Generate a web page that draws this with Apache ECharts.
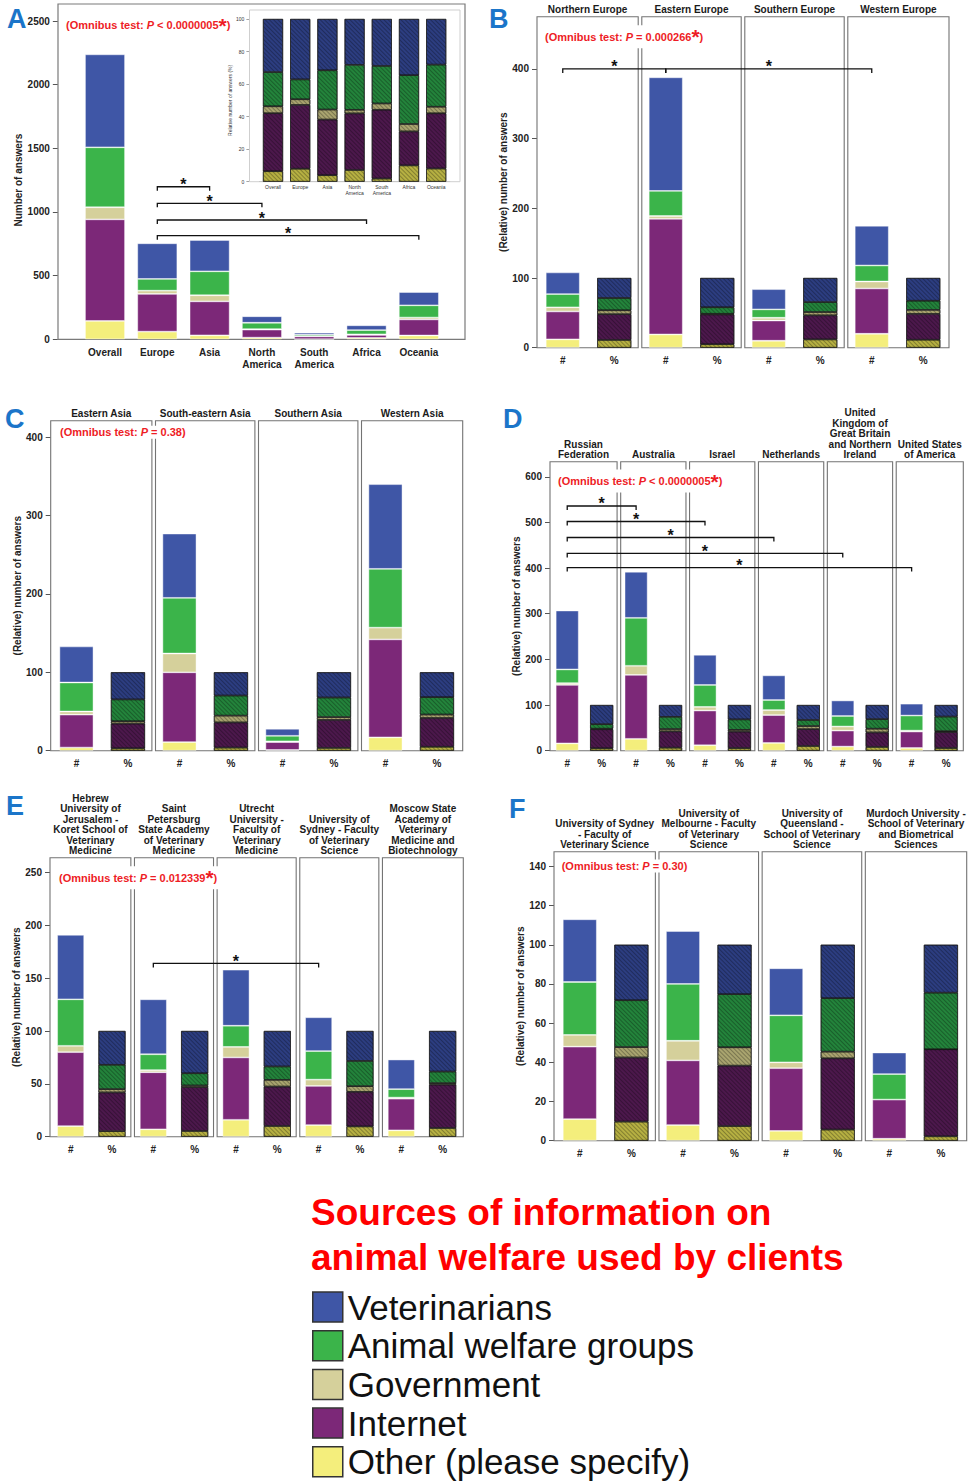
<!DOCTYPE html>
<html>
<head>
<meta charset="utf-8">
<title>Sources of information on animal welfare used by clients</title>
<script src="https://cdn.jsdelivr.net/npm/echarts@6/dist/echarts.min.js"></script>
<style>
html,body{margin:0;padding:0;background:#fff;}
#chart{width:969px;height:1484px;}
</style>
</head>
<body>
<div id="chart"></div>
<script>
// ---------- data: number of answers per information source ----------
// A: world regions
const regionsA = ['Overall', 'Europe', 'Asia', 'North\nAmerica', 'South\nAmerica', 'Africa', 'Oceania'];
const vetA   = [730, 280, 246, 51, 15, 38, 104];
const awgA   = [471,  92, 188, 50, 12, 33,  96];
const govA   = [ 95,  26,  48,  4,  2,  5,  15];
const netA   = [798, 296, 267, 63, 22, 23, 126];
const otherA = [144,  60,  31, 13,  1, 11,  30];
const bracketsA = [[1, 2, 1198], [1, 3, 1068], [1, 5, 937], [1, 6, 814]];
const ticksA = [0, 500, 1000, 1500, 2000, 2500];
const ticksInset = [0, 20, 40, 60, 80, 100];

// B: European subregions
const facetsB = ['Northern Europe', 'Eastern Europe', 'Southern Europe', 'Western Europe'];
const vetB   = [31, 163, 29, 57];
const awgB   = [19,  36, 12, 23];
const govB   = [ 6,   4,  4, 10];
const netB   = [40, 166, 29, 65];
const otherB = [12,  19, 10, 20];
const bracketsB = [[0, 1, 400], [1, 3, 400]];
const ticksB = [0, 100, 200, 300, 400];

// C: Asian subregions
const facetsC = ['Eastern Asia', 'South-eastern Asia', 'Southern Asia', 'Western Asia'];
const vetC   = [46, 82, 9, 108];
const awgC   = [37, 71, 7,  75];
const govC   = [ 4, 24, 1,  15];
const netC   = [42, 89, 10, 125];
const otherC = [ 4, 11, 1,  17];
const bracketsC = [];
const ticksC = [0, 100, 200, 300, 400];

// D: countries
const facetsD = ['Russian\nFederation', 'Australia', 'Israel', 'Netherlands',
  'United\nKingdom of\nGreat Britain\nand Northern\nIreland', 'United States\nof America'];
const vetD   = [129, 101, 66, 54, 34, 26];
const awgD   = [ 30, 105, 48, 22, 23, 33];
const govD   = [  4,  20,  8, 11,  9,  2];
const netD   = [128, 140, 76, 61, 35, 36];
const otherD = [ 16,  26, 12, 17,  9,  6];
const bracketsD = [[0, 1, 536], [0, 2, 502], [0, 3, 467], [0, 4, 432], [0, 5, 401]];
const ticksD = [0, 100, 200, 300, 400, 500, 600];

// E: veterinary schools
const facetsE = ['Hebrew\nUniversity of\nJerusalem -\nKoret School of\nVeterinary\nMedicine',
  'Saint\nPetersburg\nState Academy\nof Veterinary\nMedicine',
  'Utrecht\nUniversity -\nFaculty of\nVeterinary\nMedicine',
  'University of\nSydney - Faculty\nof Veterinary\nScience',
  'Moscow State\nAcademy of\nVeterinary\nMedicine and\nBiotechnology'];
const vetE   = [61, 52, 53, 32, 28];
const awgE   = [44, 15, 20, 27,  8];
const govE   = [ 6,  2, 10,  6,  1];
const netE   = [70, 54, 59, 37, 30];
const otherE = [10,  7, 16, 11,  6];
const bracketsE = [[1, 3, 164]];
const ticksE = [0, 50, 100, 150, 200, 250];

// F: Australian veterinary schools
const facetsF = ['University of Sydney\n- Faculty of\nVeterinary Science',
  'University of\nMelbourne - Faculty\nof Veterinary\nScience',
  'University of\nQueensland -\nSchool of Veterinary\nScience',
  'Murdoch University -\nSchool of Veterinary\nand Biometrical\nSciences'];
const vetF   = [32, 27, 24, 11];
const awgF   = [27, 29, 24, 13];
const govF   = [ 6, 10,  3,  0];
const netF   = [37, 33, 32, 20];
const otherF = [11,  8,  5,  1];
const bracketsF = [];
const ticksF = [0, 20, 40, 60, 80, 100, 120, 140];

// ---------- styling ----------
const FONT = "'Liberation Sans', Arial, Helvetica, sans-serif";
const NAMES = {vet: 'Veterinarians', awg: 'Animal welfare groups', gov: 'Government',
  net: 'Internet', other: 'Other (please specify)'};
const STACK = ['other', 'net', 'gov', 'awg', 'vet'];          // bottom to top
const COLORS = {vet: '#3f56a6', awg: '#3bb44a', gov: '#d5d09b', net: '#7c2878', other: '#f4ee7c'};
const DARK   = {vet: '#2c3d80', awg: '#23833b', gov: '#a9a46f', net: '#4c184c', other: '#b6b042'};
const RED = '#ee1c25';
const LETTER = '#1b75c9';

function plainStyle(k) {
  return {color: COLORS[k], borderColor: 'rgba(255,255,255,0.55)', borderWidth: 0.8};
}
function hatchStyle(k) {
  return {
    color: DARK[k], borderColor: '#1a1a1a', borderWidth: 0.6,
    decal: {symbol: 'rect', symbolSize: 1, dashArrayX: [1, 0], dashArrayY: [1, 2],
            rotation: Math.PI / 4, color: 'rgba(0,0,0,0.28)'}
  };
}
const plainNumber = v => String(v);
const boldLabel = {fontFamily: FONT, fontWeight: 'bold', fontSize: 10, color: '#222'};

const option = {
  animation: false,
  backgroundColor: '#fff',
  grid: [], xAxis: [], yAxis: [], series: [], title: [], graphic: [],
  legend: {
    left: 312, top: 1289.5, height: 194, orient: 'vertical', padding: 0,
    itemWidth: 30, itemHeight: 30, itemGap: 3.7, icon: 'rect', selectedMode: false,
    data: ['Veterinarians', 'Animal welfare groups', 'Government', 'Internet', 'Other (please specify)'],
    itemStyle: {borderColor: '#333', borderWidth: 1.5},
    textStyle: {fontFamily: FONT, fontSize: 35, color: '#111'}
  }
};

function sumAt(counts, i) {
  return STACK.reduce((s, k) => s + counts[k][i], 0);
}

function bracketRenderer(list, xOf) {
  return function (params, api) {
    const b = list[params.dataIndex];
    const p1 = api.coord([xOf(b[0]), b[2]]);
    const p2 = api.coord([xOf(b[1]), b[2]]);
    const d = 4;
    return {type: 'group', children: [
      {type: 'polyline', shape: {points: [[p1[0], p1[1] + d], [p1[0], p1[1]], [p2[0], p2[1]], [p2[0], p2[1] + d]]},
       style: {fill: 'none', stroke: '#111', lineWidth: 1.3}},
      {type: 'text', style: {text: '*', x: (p1[0] + p2[0]) / 2, y: p1[1] - 2, align: 'center',
       verticalAlign: 'middle', fontSize: 16, fontWeight: 'bold', fontFamily: FONT, fill: '#111'}}
    ]};
  };
}

function addBrackets(gi, list, xOf) {
  if (!list.length) return;
  option.series.push({
    type: 'custom', xAxisIndex: gi, yAxisIndex: gi, z: 4, silent: true,
    data: list.map(b => [xOf(b[0]), b[2]]),
    renderItem: bracketRenderer(list, xOf)
  });
}

// ---------- panel A: counts per region, plus percentage inset ----------
(function () {
  const counts = {vet: vetA, awg: awgA, gov: govA, net: netA, other: otherA};
  // main plot
  let gi = option.grid.length;
  option.grid.push({left: 78.85, top: 21, width: 366.15, height: 318.3});
  option.xAxis.push({gridIndex: gi, type: 'category', data: regionsA,
    axisLine: {show: false}, axisTick: {alignWithLabel: true, length: 5, lineStyle: {color: '#555'}},
    axisLabel: Object.assign({margin: 7, lineHeight: 12}, boldLabel)});
  option.yAxis.push({gridIndex: gi, type: 'value', min: 0, max: 2500, offset: 21,
    axisLine: {show: false},
    axisTick: {show: true, length: 5, customValues: ticksA, lineStyle: {color: '#555'}},
    axisLabel: Object.assign({customValues: ticksA, formatter: plainNumber}, boldLabel),
    splitLine: {show: false},
    name: 'Number of answers', nameLocation: 'middle', nameGap: 31,
    nameTextStyle: {fontFamily: FONT, fontWeight: 'bold', fontSize: 10, color: '#222'}});
  STACK.forEach(k => {
    option.series.push({type: 'bar', name: NAMES[k], xAxisIndex: gi, yAxisIndex: gi, stack: 'A',
      barWidth: 40, z: 2, itemStyle: plainStyle(k),
      data: regionsA.map((_, i) => counts[k][i])});
  });
  addBrackets(gi, bracketsA, i => i);

  // inset: relative number of answers (%)
  gi = option.grid.length;
  option.grid.push({left: 259.4, top: 19, width: 190.4, height: 162.7});
  option.xAxis.push({gridIndex: gi, type: 'category', data: regionsA,
    axisLine: {show: true, lineStyle: {color: '#666', width: 0.6}},
    axisTick: {alignWithLabel: true, length: 2, lineStyle: {color: '#666', width: 0.6}},
    axisLabel: {fontFamily: FONT, fontSize: 5, color: '#333', margin: 3, lineHeight: 5.5}});
  option.yAxis.push({gridIndex: gi, type: 'value', min: 0, max: 100, offset: 10,
    axisLine: {show: false},
    axisTick: {show: true, length: 3, customValues: ticksInset, lineStyle: {color: '#666', width: 0.6}},
    axisLabel: {customValues: ticksInset, fontFamily: FONT, fontSize: 5, color: '#333', margin: 5},
    splitLine: {show: false},
    name: 'Relative number of answers (%)', nameLocation: 'middle', nameGap: 12,
    nameTextStyle: {fontFamily: FONT, fontSize: 5, color: '#333'}});
  STACK.forEach(k => {
    option.series.push({type: 'bar', name: NAMES[k], xAxisIndex: gi, yAxisIndex: gi, stack: 'inset',
      barWidth: 20, z: 2, itemStyle: {color: DARK[k]},
      data: regionsA.map((_, i) => ({value: counts[k][i] / sumAt(counts, i) * 100, itemStyle: hatchStyle(k)}))});
  });

  option.graphic.push(
    {type: 'rect', silent: true, z: 1, shape: {x: 58, y: 4, width: 407, height: 335.3},
     style: {fill: 'none', stroke: '#7a7a7a', lineWidth: 1.2}},
    {type: 'rect', silent: true, z: 1, shape: {x: 249.5, y: 10, width: 210.5, height: 171.7},
     style: {fill: 'none', stroke: '#cfcfcf', lineWidth: 1}}
  );
})();

// ---------- faceted panels B–F: count (#) and percentage (%) bars per facet ----------
function facetPanel(p) {
  const gi = option.grid.length;
  const counts = p.counts;
  const cats = [];
  p.facets.forEach(() => cats.push('#', '%'));
  option.grid.push({left: p.box.left, top: p.box.top, width: p.box.width, height: p.box.height});
  option.xAxis.push({gridIndex: gi, type: 'category', data: cats, axisLine: {show: false},
    axisTick: {alignWithLabel: true, length: 5, lineStyle: {color: '#555'}},
    axisLabel: Object.assign({margin: 8}, boldLabel)});
  option.yAxis.push({gridIndex: gi, type: 'value', min: 0, max: p.yMax,
    axisLine: {show: false},
    axisTick: {show: true, length: 5, customValues: p.yTicks, lineStyle: {color: '#555'}},
    axisLabel: Object.assign({customValues: p.yTicks, formatter: plainNumber}, boldLabel),
    splitLine: {show: false},
    name: '(Relative) number of answers', nameLocation: 'middle', nameGap: p.nameGap,
    nameTextStyle: {fontFamily: FONT, fontWeight: 'bold', fontSize: 10, color: '#222'}});
  STACK.forEach(k => {
    const data = [];
    p.facets.forEach((_, f) => {
      data.push({value: counts[k][f], itemStyle: plainStyle(k)});
      data.push({value: counts[k][f] / sumAt(counts, f) * 100, itemStyle: hatchStyle(k)});
    });
    option.series.push({type: 'bar', name: NAMES[k], xAxisIndex: gi, yAxisIndex: gi, stack: 'p' + gi,
      barWidth: p.barWidth, z: 2, itemStyle: {color: COLORS[k]}, data});
  });
  // facet frames with their titles
  const n = p.facets.length;
  option.series.push({
    type: 'custom', xAxisIndex: gi, yAxisIndex: gi, z: 1, silent: true,
    data: p.facets.map((_, f) => [2 * f, 0]),
    renderItem: function (params, api) {
      const f = params.dataIndex, g = 1.8;
      const band = api.size([1, 0])[0];
      const a = api.coord([2 * f, 0]);
      const b = api.coord([2 * f + 1, p.yMax]);
      const x0 = a[0] - band / 2 + (f > 0 ? g : 0);
      const x1 = b[0] + band / 2 - (f < n - 1 ? g : 0);
      return {type: 'group', children: [
        {type: 'rect', shape: {x: x0, y: b[1], width: x1 - x0, height: a[1] - b[1]},
         style: {fill: 'none', stroke: '#737373', lineWidth: 1.1}},
        {type: 'text', style: {text: p.facets[f], x: (x0 + x1) / 2, y: b[1] - 2, align: 'center',
         verticalAlign: 'bottom', fontSize: 10, fontWeight: 'bold', fontFamily: FONT,
         fill: '#1a1a1a', lineHeight: 10.4}}
      ]};
    }
  });
  addBrackets(gi, p.brackets, f => 2 * f);
}

facetPanel({facets: facetsB, counts: {vet: vetB, awg: awgB, gov: govB, net: netB, other: otherB},
  brackets: bracketsB, yTicks: ticksB, yMax: 475, barWidth: 34, nameGap: 29,
  box: {left: 537, top: 16.7, width: 412, height: 331}});
facetPanel({facets: facetsC, counts: {vet: vetC, awg: awgC, gov: govC, net: netC, other: otherC},
  brackets: bracketsC, yTicks: ticksC, yMax: 421, barWidth: 34, nameGap: 27.7,
  box: {left: 50.7, top: 420.7, width: 412, height: 330}});
facetPanel({facets: facetsD, counts: {vet: vetD, awg: awgD, gov: govD, net: netD, other: otherD},
  brackets: bracketsD, yTicks: ticksD, yMax: 633, barWidth: 23, nameGap: 28,
  box: {left: 550, top: 461.7, width: 413.3, height: 289}});
facetPanel({facets: facetsE, counts: {vet: vetE, awg: awgE, gov: govE, net: netE, other: otherE},
  brackets: bracketsE, yTicks: ticksE, yMax: 264, barWidth: 27, nameGap: 27,
  box: {left: 50, top: 857.7, width: 413.3, height: 279}});
facetPanel({facets: facetsF, counts: {vet: vetF, awg: awgF, gov: govF, net: netF, other: otherF},
  brackets: bracketsF, yTicks: ticksF, yMax: 147.5, barWidth: 34, nameGap: 27,
  box: {left: 554, top: 851.7, width: 412.7, height: 289}});

// ---------- texts: panel letters, omnibus test results, legend heading ----------
function letter(t, left, top) {
  option.title.push({text: t, left, top, padding: 0,
    textStyle: {fontFamily: FONT, fontWeight: 'bold', fontSize: 27, color: LETTER}});
}
letter('A', 7, 5); letter('B', 489, 5); letter('C', 5, 405);
letter('D', 503, 405); letter('E', 6, 792); letter('F', 509, 795);

function omnibus(op, value, star, left, cy) {
  let txt = '{t|(Omnibus test: }{p|P}{t| ' + op + ' ' + value + '}';
  if (star) txt += '{s|*}';
  txt += '{t|)}';
  option.title.push({text: txt, left: left - 2, top: cy - 8, padding: [1, 2],
    backgroundColor: '#fff', z: 8,
    textStyle: {rich: {
      t: {fontFamily: FONT, fontWeight: 'bold', fontSize: 11, color: RED, lineHeight: 14},
      p: {fontFamily: FONT, fontWeight: 'bold', fontStyle: 'italic', fontSize: 11, color: RED, lineHeight: 14},
      s: {fontFamily: FONT, fontWeight: 'bold', fontSize: 21, color: RED, lineHeight: 14}
    }}});
}
omnibus('<', '0.0000005', true, 66, 25);
omnibus('=', '0.000266', true, 545, 36.7);
omnibus('=', '0.38', false, 60, 432.3);
omnibus('<', '0.0000005', true, 558, 481);
omnibus('=', '0.012339', true, 59, 877.7);
omnibus('=', '0.30', false, 561.7, 866);

option.title.push({text: 'Sources of information on\nanimal welfare used by clients', left: 311, top: 1190,
  padding: 0, textStyle: {fontFamily: FONT, fontWeight: 'bold', fontSize: 37, lineHeight: 45, color: '#ff0000'}});

const chart = echarts.init(document.getElementById('chart'), null, {renderer: 'svg', width: 969, height: 1484});
chart.setOption(option);
</script>
</body>
</html>
